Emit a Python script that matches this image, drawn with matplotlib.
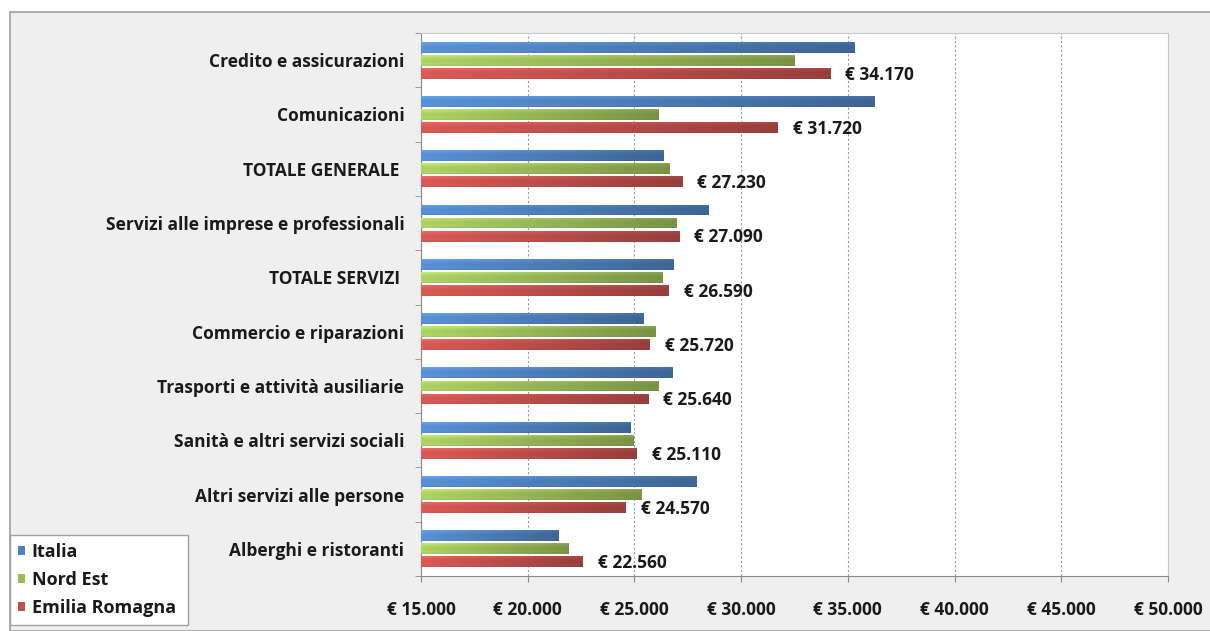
import numpy as np
import matplotlib
matplotlib.use("Agg")
import matplotlib.pyplot as plt
from matplotlib.patches import Rectangle
from matplotlib.colors import to_rgb
from matplotlib.ticker import FuncFormatter, MultipleLocator

plt.rcParams['font.family'] = ['Open Sans', 'DejaVu Sans']

settori = ["Credito e assicurazioni", "Comunicazioni", "TOTALE GENERALE ",
           "Servizi alle imprese e professionali", "TOTALE SERVIZI ",
           "Commercio e riparazioni", "Trasporti e attività ausiliarie",
           "Sanità e altri servizi sociali", "Altri servizi alle persone",
           "Alberghi e ristoranti"]
italia = [35330, 36230, 26370, 28490, 26840, 25420, 26790, 24810, 27930, 21460]
nord_est = [32500, 26130, 26650, 26980, 26320, 25990, 26130, 24950, 25330, 21890]
emilia = [34170, 31720, 27230, 27090, 26590, 25720, 25640, 25110, 24570, 22560]
serie = ["Italia", "Nord Est", "Emilia Romagna"]
colori = ["#4f81bd", "#9bbb59", "#c0504d"]

W, H = 1210, 631
fig = plt.figure(figsize=(W / 100, H / 100), dpi=100)
fig.patch.set_facecolor("white")
# grey chart area with thin frame
fig.patches.append(Rectangle((10 / W, 0), 1, 1 - 12 / H, transform=fig.transFigure,
                             facecolor="#efefef", edgecolor="#a0a0a0", lw=1.2, zorder=-5))

ax = fig.add_axes([421 / W, (H - 576) / H, (1168 - 421) / W, (576 - 33) / H])
ax.set_facecolor("white")


def sfumatura(ax, x0, x1, yc, h, col):
    r, g, b = to_rgb(col)
    gx = np.linspace(1.15, 0.8, 64)
    gy = np.array([1.1, 1.04, 1.0, 0.98, 0.97, 0.98, 1.0, 0.95])
    f = gy[:, None] * gx[None, :]
    img = np.clip(np.dstack([r * f, g * f, b * f]), 0, 1)
    rect = Rectangle((x0, yc - h / 2), x1 - x0, h, facecolor="none", edgecolor="none")
    ax.add_patch(rect)
    im = ax.imshow(img, extent=(x0, x1, yc + h / 2, yc - h / 2), aspect="auto",
                   interpolation="bilinear", zorder=3)
    im.set_clip_path(rect)


base = 15000
y = np.arange(len(settori))
passo = 0.24
alt = 0.2
for k, valori in enumerate([italia, nord_est, emilia]):
    for i, v in enumerate(valori):
        sfumatura(ax, base, v, y[i] + (k - 1) * passo, alt, colori[k])

for i, v in enumerate(emilia):
    ax.annotate("€ " + f"{v:,}".replace(",", "."), (v, y[i] + passo),
                xytext=(11, -1), textcoords="offset points", va="center",
                ha="left", fontsize=12.5, fontweight="bold", color="#1a1a1a")

ax.set_xlim(15000, 50000)
ax.set_ylim(9.5, -0.5)
ax.xaxis.set_major_locator(MultipleLocator(5000))
ax.xaxis.set_major_formatter(FuncFormatter(lambda v, p: "€ " + f"{int(v):,}".replace(",", ".")))
ax.set_yticks(y)
ax.set_yticklabels(settori)
ax.set_yticks(np.arange(-0.5, 10, 1), minor=True)
ax.grid(axis="x", color="#9a9a9a", ls=(0, (2, 2)), lw=0.8, zorder=1)

ax.tick_params(axis="y", which="major", length=0, pad=12, labelsize=12.5, colors="#1a1a1a")
ax.tick_params(axis="y", which="minor", length=4, color="#8a8a8a", direction="out")
ax.tick_params(axis="x", length=4, color="#8a8a8a", pad=14, labelsize=12.5, colors="#1a1a1a")
for lab in ax.get_xticklabels() + ax.get_yticklabels():
    lab.set_fontweight("bold")
for s in ["top", "right"]:
    ax.spines[s].set_color("#c8c8c8")
for s in ["left", "bottom"]:
    ax.spines[s].set_color("#8a8a8a")

handles = [Rectangle((0, 0), 1, 1, facecolor=c, edgecolor="none") for c in colori]
leg = fig.legend(handles, serie, loc="lower left",
                 bbox_to_anchor=(10 / W, 6 / H, 178 / W, 98 / H), mode="expand",
                 borderaxespad=0, frameon=True, fancybox=False, edgecolor="#a0a0a0",
                 framealpha=1, handlelength=0.4, handleheight=0.4, handletextpad=0.35,
                 labelspacing=0.55, borderpad=0.45, prop={"weight": "bold", "size": 13})
leg.get_frame().set_linewidth(1.0)
for t in leg.get_texts():
    t.set_color("#1a1a1a")

fig.savefig("out.png", dpi=100, facecolor=fig.get_facecolor())
